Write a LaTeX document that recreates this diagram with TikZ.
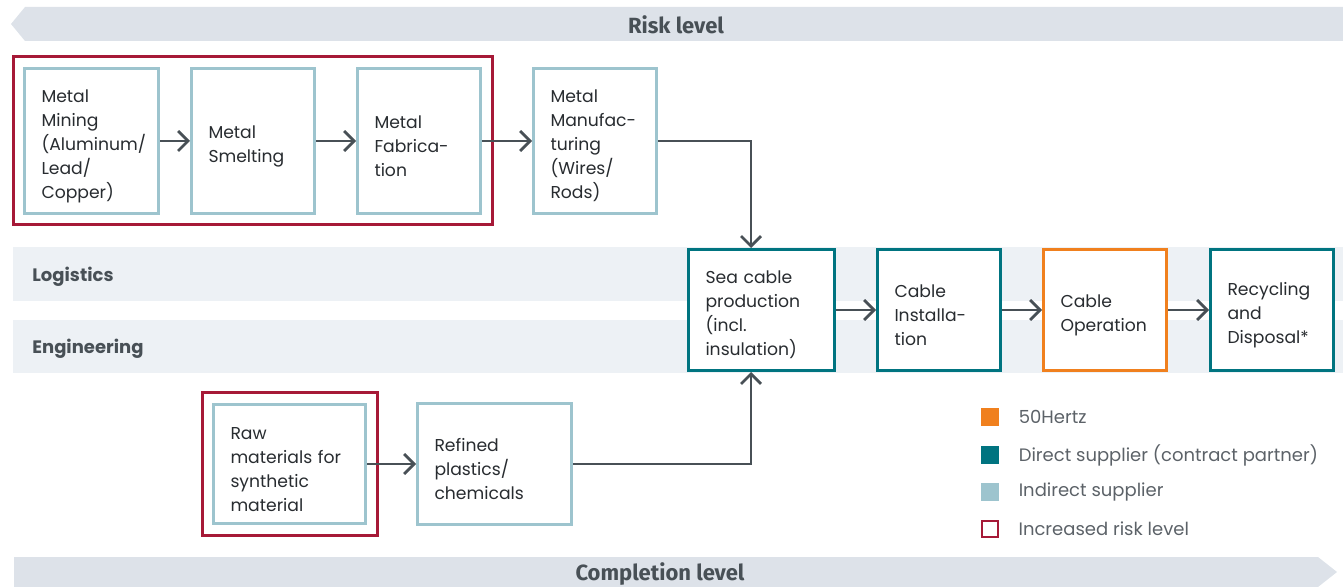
\documentclass[tikz,border=0pt]{standalone}
\usepackage{fontspec}
\setmainfont{Poppins}
\newfontfamily\bandfont{Fira Sans}
\usetikzlibrary{positioning, arrows.meta, calc, fit}
\definecolor{lightteal}{RGB}{157,196,206}
\definecolor{darkteal}{RGB}{0,116,128}
\definecolor{hertzorange}{RGB}{240,128,30}
\definecolor{riskred}{RGB}{166,25,55}
\definecolor{arrowgray}{RGB}{72,80,86}
\definecolor{boxtext}{RGB}{40,44,48}
\definecolor{keygray}{RGB}{92,98,104}
\definecolor{bandgray}{RGB}{221,226,233}
\definecolor{lanefill}{RGB}{237,241,245}

\begin{document}
\begin{tikzpicture}[x=0.5pt, y=-0.5pt, font=\fontsize{9}{12}\selectfont,
          >={Straight Barb[length=5pt, width=10pt]},
          stepbox/.style={draw, line width=1.5pt, fill=white, text=boxtext, align=left,
                    font=\fontsize{8.6}{12}\selectfont, inner xsep=8.5pt, inner ysep=0pt,
                    text height=11.5pt},
          ind/.style={stepbox, draw=lightteal},
          dir/.style={stepbox, draw=darkteal},
          own/.style={stepbox, draw=hertzorange},
          riskframe/.style={draw=riskred, line width=1.5pt, inner sep=5pt},
          flow/.style={->, draw=arrowgray, line width=1.35pt},
          lane/.style={font=\bfseries\fontsize{9}{12}\selectfont, text=arrowgray, anchor=west,
                    inner sep=0pt},
          band/.style={font=\bandfont\bfseries\fontsize{11}{13}\selectfont, text=arrowgray},
          keybox/.style={minimum size=9pt, inner sep=0pt},
          keyown/.style={keybox, fill=hertzorange},
          keydir/.style={keybox, fill=darkteal},
          keyind/.style={keybox, fill=lightteal},
          keyrisk/.style={keybox, minimum size=8pt, draw=riskred, line width=1.2pt, fill=white},
          keytext/.style={text=keygray, inner sep=0pt}]
        \useasboundingbox (0,0) rectangle (1343,587);
        % banners and lanes
        \fill[bandgray] (11,24) -- (25,7) -- (1343,7) -- (1343,41) -- (25,41) -- cycle;
        \fill[bandgray] (14,557) -- (1318,557) -- (1337,572) -- (1318,587) -- (14,587) -- cycle;
        \node[band] (risk) at (676,25) {Risk level};
        \node[band] (completion) at (660,574) {Completion level};
        \fill[lanefill] (13,247) rectangle (1343,301);
        \fill[lanefill] (13,320) rectangle (1343,373);
        \node[lane] (logistics) at (32,277) {Logistics};
        \node[lane] (engineering) at (32,349) {Engineering};

        % metal chain
        \node[ind, text width=50pt, minimum height=72.5pt] (mining) at (91.5,141)
            {Metal\\Mining\\(Aluminum/\\Lead/\\Copper)};
        \node[ind, text width=44.5pt, minimum height=72.5pt, right=15pt of mining] (smelting)
            {Metal\\Smelting};
        \node[ind, text width=44.5pt, minimum height=72.5pt, right=20pt of smelting] (fabrication)
            {Metal\\Fabrica-\\tion};
        \node[ind, text width=44.5pt, minimum height=72.5pt, right=25pt of fabrication] (manufacturing)
            {Metal\\Manufac-\\turing\\(Wires/\\Rods)};
        \node[riskframe, fit=(mining)(fabrication)] (metalrisk) {};

        % cable chain
        \node[dir, text width=56pt, minimum height=60.5pt] (seacable) at (761.5,310)
            {Sea cable\\production\\(incl.\\insulation)};
        \node[dir, text width=44.5pt, minimum height=60.5pt, right=20pt of seacable] (installation)
            {Cable\\Installa-\\tion};
        \node[own, text width=44.5pt, minimum height=60.5pt, right=20pt of installation] (operation)
            {Cable\\Operation};
        \node[dir, text width=44.5pt, minimum height=60.5pt, right=20.5pt of operation] (recycling)
            {Recycling\\and\\Disposal*};

        % synthetic chain
        \node[ind, text width=59pt, minimum height=59.5pt] (rawmat) at (289.5,464)
            {Raw\\materials for\\synthetic\\material};
        \node[ind, text width=60pt, minimum height=60.5pt, right=24.5pt of rawmat] (refined)
            {Refined\\plastics/\\chemicals};
        \node[riskframe, fit=(rawmat)] (rawrisk) {};

        \draw[flow] (mining) -- (smelting);
        \draw[flow] (smelting) -- (fabrication);
        \draw[flow] (fabrication) -- (manufacturing);
        \draw[flow] (manufacturing.east) -| ([xshift=-5.25pt]seacable.north);
        \draw[flow] (refined.east) -| ([xshift=-5.25pt]seacable.south);
        \draw[flow] (rawmat) -- (refined);
        \draw[flow] (seacable) -- (installation);
        \draw[flow] (installation) -- (operation);
        \draw[flow] (operation) -- (recycling);

        % legend
        \foreach \y/\sty/\txt [count=\i] in {417/keyown/50Hertz,
            455/keydir/Direct supplier (contract partner),
            492/keyind/Indirect supplier, 529/keyrisk/Increased risk level} {
          \node[\sty] (key\i) at (990,\y) {};
          \node[keytext, right=9.5pt of key\i] (keylabel\i) {\txt};
        }
      \end{tikzpicture}
\end{document}
